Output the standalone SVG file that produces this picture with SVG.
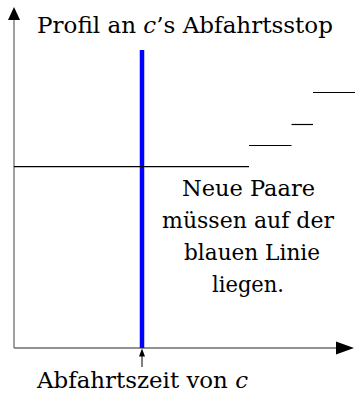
<svg xmlns="http://www.w3.org/2000/svg" width="355" height="393" viewBox="0 0 355 393">
<style>
.t{font-family:'DejaVu Serif','Liberation Serif',serif;font-size:22.5px;fill:#000}
.m{font-style:italic}
.axis{stroke:#6e6e6e;stroke-width:1.3;fill:none}
.step{stroke:#000;stroke-width:1.2;fill:none}
.head{fill:#000}
</style>
<rect width="355" height="393" fill="#fff"/>
<g id="connectors">
<line class="axis" x1="14" y1="348" x2="14" y2="19"/>
<polygon class="head" points="14,7 20,20 8,20"/>
<line class="axis" x1="14" y1="348" x2="337" y2="348"/>
<polygon class="head" points="354,348 336,341.5 336,354.5"/>
<line x1="142" y1="50" x2="142" y2="348" stroke="#0000ff" stroke-width="4.5"/>
<line class="step" x1="14" y1="166.6" x2="249" y2="166.6"/>
<line class="step" x1="249" y1="145.5" x2="291.5" y2="145.5"/>
<line class="step" x1="291.5" y1="124.5" x2="313" y2="124.5"/>
<line class="step" x1="313" y1="92.5" x2="355" y2="92.5"/>
<line x1="142" y1="367" x2="142" y2="355" stroke="#000" stroke-width="1"/>
<polygon class="head" points="142,348.5 145,356.5 139,356.5"/>
</g>
<g id="title"><text class="t" x="37" y="33" textLength="296" lengthAdjust="spacingAndGlyphs">Profil an <tspan class="m">c</tspan>’s Abfahrtsstop</text></g>
<g id="note" text-anchor="middle">
<text class="t" x="248.5" y="196" textLength="133" lengthAdjust="spacingAndGlyphs">Neue Paare</text>
<text class="t" x="248" y="228" textLength="172" lengthAdjust="spacingAndGlyphs">müssen auf der</text>
<text class="t" x="252" y="260" textLength="136" lengthAdjust="spacingAndGlyphs">blauen Linie</text>
<text class="t" x="248" y="292" textLength="72" lengthAdjust="spacingAndGlyphs">liegen.</text>
</g>
<g id="xlabel"><text class="t" x="37" y="388" textLength="211" lengthAdjust="spacingAndGlyphs">Abfahrtszeit von <tspan class="m">c</tspan></text></g>
</svg>
